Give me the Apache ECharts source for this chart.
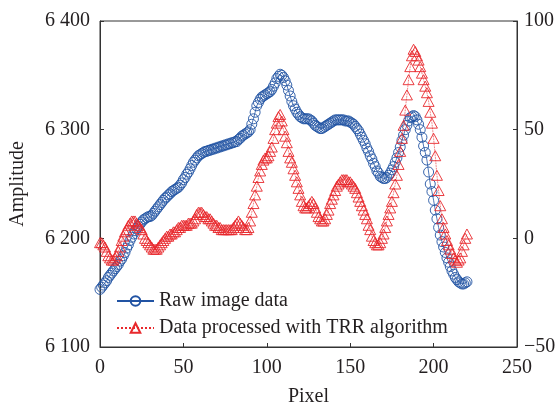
<!DOCTYPE html>
<html>
<head>
<meta charset="utf-8">
<script src="https://cdn.jsdelivr.net/npm/echarts@6/dist/echarts.min.js"></script>
<style>html,body{margin:0;padding:0;background:#fff;}#c{width:557px;height:404px;}</style>
</head>
<body>
<div id="c"></div>
<script>
// x positions (pixel index)
const pixels = Array.from({length: 221}, (_, i) => i);
// Raw image data (left axis, amplitude)
const rawData = [
6153,6155,6157,6159,6161,6164,6166,6168,6170,6172,6174,6176,6179,6181,6184,6187,6191,6194,6198,6201,
6204,6207,6209,6211,6213,6215,6217,6218,6219,6220,6220,6221,6223,6225,6227,6229,6231,6233,6235,6237,
6238,6240,6241,6243,6244,6245,6246,6247,6249,6251,6254,6256,6259,6261,6264,6267,6270,6272,6274,6276,
6277,6278,6279,6280,6280,6281,6281,6282,6282,6283,6283,6284,6284,6285,6285,6286,6286,6287,6287,6288,
6288,6289,6289,6291,6292,6294,6295,6296,6297,6298,6300,6305,6310,6316,6322,6325,6328,6330,6331,6332,
6333,6334,6335,6337,6340,6343,6347,6349,6351,6350,6348,6345,6341,6336,6331,6326,6322,6319,6316,6314,
6312,6311,6310,6310,6310,6310,6309,6308,6306,6304,6303,6302,6301,6301,6302,6303,6304,6305,6306,6307,
6308,6309,6309,6309,6309,6309,6309,6308,6308,6308,6307,6306,6305,6303,6301,6299,6296,6293,6290,6287,
6283,6280,6276,6273,6269,6266,6262,6260,6257,6256,6255,6255,6256,6258,6260,6263,6266,6270,6274,6279,
6284,6290,6295,6300,6304,6308,6311,6312,6313,6312,6309,6305,6300,6293,6285,6279,6272,6261,6250,6243,
6235,6226,6218,6210,6203,6197,6192,6187,6182,6178,6174,6170,6167,6164,6162,6160,6159,6158,6158,6159,
6160];
// Data processed with TRR algorithm (right axis)
const trrData = [
-2,-2,-3,-4,-6,-8,-9,-10,-10,-9,-8,-6,-4,-1,1,3,4,6,7,8,
8,8,7,6,5,4,2,0,-1,-2,-3,-4,-5,-5,-5,-4,-3,-2,-1,0,
1,1,2,2,3,3,4,5,5,6,6,6,6,7,7,7,8,9,11,12,
12,12,11,10,10,9,9,8,7,6,6,5,5,4,4,4,4,4,4,4,
5,6,7,8,7,6,5,4,4,5,8,12,16,20,24,28,31,34,36,37,
37,38,40,42,46,50,53,56,57,54,50,47,44,40,37,35,32,29,26,23,
20,17,15,14,14,15,16,17,16,14,12,10,9,8,8,9,11,13,16,18,
20,22,24,25,26,27,27,27,27,26,26,25,24,23,21,19,17,15,13,11,
9,6,4,1,-1,-2,-3,-3,-2,0,2,5,8,11,14,17,21,25,29,34,
40,46,52,59,66,73,79,84,87,86,84,82,79,76,73,70,67,63,58,53,
46,38,29,22,15,9,5,2,-1,-3,-5,-7,-9,-10,-11,-10,-9,-6,-3,0,
2];
const xTicks = [0, 50, 100, 150, 200, 250];
const leftTicks = [6100, 6200, 6300, 6400];
const rightTicks = [-50, 0, 50, 100];

const FONT = 'Liberation Serif';
const BLUE = '#2153a3';
const RED = '#e8282c';
const AX = '#333333';
const TXT = '#231f20';
const NOFILL = 'rgba(255,255,255,0)';

const chart = echarts.init(document.getElementById('c'), null, {renderer: 'canvas'});
const fmtLeft = v => { const s = String(v); return s.slice(0, 1) + ' ' + s.slice(1); };
const fmtRight = v => (v < 0 ? '\u2212' + Math.abs(v) : String(v));

chart.setOption({
  animation: false,
  backgroundColor: '#fff',
  grid: {left: 100, right: 40, top: 21, bottom: 57, containLabel: false, outerBoundsMode: 'none',
         show: true, borderColor: AX, borderWidth: 1, backgroundColor: 'transparent'},
  legend: {
    orient: 'vertical', left: 111, top: 286, itemWidth: 37, itemHeight: 12, itemGap: 7,
    textStyle: {fontFamily: FONT, fontSize: 20, color: TXT},
    data: ['Raw image data', 'Data processed with TRR algorithm']
  },
  xAxis: {
    type: 'value', min: xTicks[0], max: xTicks[xTicks.length - 1], interval: 50,
    name: 'Pixel', nameLocation: 'middle', nameGap: 40, nameMoveOverlap: false,
    nameTextStyle: {fontFamily: FONT, fontSize: 20, color: TXT},
    axisLine: {onZero: false, lineStyle: {color: AX, width: 1}},
    axisTick: {inside: true, length: 4, lineStyle: {color: AX}},
    axisLabel: {fontFamily: FONT, fontSize: 20, color: TXT, margin: 11},
    splitLine: {show: false}
  },
  yAxis: [{
    type: 'value', min: leftTicks[0], max: leftTicks[leftTicks.length - 1], interval: 100, position: 'left',
    name: 'Amplitude', nameLocation: 'middle', nameGap: 72, nameRotate: 90, nameMoveOverlap: false,
    nameTextStyle: {fontFamily: FONT, fontSize: 20, color: TXT},
    axisLine: {show: true, onZero: false, lineStyle: {color: AX, width: 1}},
    axisTick: {show: true, inside: true, length: 4, lineStyle: {color: AX}},
    axisLabel: {fontFamily: FONT, fontSize: 20, color: TXT, margin: 10, formatter: fmtLeft},
    splitLine: {show: false}
  }, {
    type: 'value', min: rightTicks[0], max: rightTicks[rightTicks.length - 1], interval: 50, position: 'right',
    axisLine: {show: true, onZero: false, lineStyle: {color: AX, width: 1}},
    axisTick: {show: true, inside: true, length: 4, lineStyle: {color: AX}},
    axisLabel: {fontFamily: FONT, fontSize: 20, color: TXT, margin: 7, formatter: fmtRight},
    splitLine: {show: false}
  }],
  series: [{
    name: 'Raw image data', type: 'line', yAxisIndex: 0,
    data: pixels.map((x, i) => [x, rawData[i]]),
    symbol: 'circle', symbolSize: 10, showAllSymbol: true,
    lineStyle: {color: BLUE, width: 0.8},
    itemStyle: {color: NOFILL, borderColor: BLUE, borderWidth: 0.9},
    z: 2
  }, {
    name: 'Data processed with TRR algorithm', type: 'line', yAxisIndex: 1,
    data: pixels.map((x, i) => [x, trrData[i]]),
    symbol: 'triangle', symbolSize: [11, 10], showAllSymbol: true,
    lineStyle: {color: RED, width: 0.8, type: 'dotted'},
    itemStyle: {color: NOFILL, borderColor: RED, borderWidth: 0.9},
    z: 3
  }]
});
</script>
</body>
</html>
